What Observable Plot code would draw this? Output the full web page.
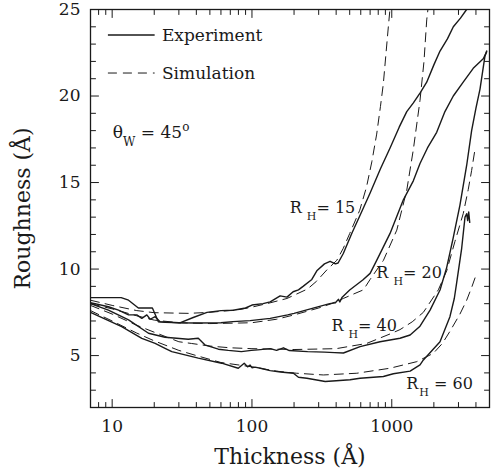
<!DOCTYPE html>
<html><head><meta charset="utf-8">
<script src="https://cdn.jsdelivr.net/npm/d3@7"></script>
<script src="https://cdn.jsdelivr.net/npm/@observablehq/plot@0.6"></script>
<style>body{margin:0;background:#fff}</style>
</head><body><div id="chart"></div>
<script>
// ---- data (thickness Å, roughness Å) ----
const rh15ExpX = [7, 11.6, 13.1, 15.4, 19.4, 21.4, 24, 30.8, 38, 47.7, 60, 73.5, 90, 100, 120, 135, 159, 178, 197, 215, 232, 268, 291, 330, 362, 395, 413, 450, 520, 600, 700, 830, 972, 1130, 1280, 1427, 1600, 1778, 2000, 2213, 2500, 2756, 3100, 3430];
const rh15ExpY = [8.35, 8.35, 8.2, 7.75, 7.75, 6.95, 6.92, 6.9, 7.2, 7.5, 7.6, 7.62, 7.75, 7.92, 8.0, 8.1, 8.45, 8.38, 8.69, 8.8, 9.0, 9.4, 9.9, 10.3, 10.45, 10.3, 10.35, 10.9, 12.1, 13.2, 14.4, 15.8, 17.0, 18.2, 19.1, 19.6, 20.2, 20.8, 21.8, 22.6, 23.3, 24.0, 24.5, 25.0];
const rh15SimX = [7, 10, 15, 20, 35, 50, 80, 100, 135, 178, 250, 290, 343, 404, 450, 500, 590, 660, 720, 780, 830, 870, 910, 945, 975];
const rh15SimY = [8.2, 7.9, 7.6, 7.48, 7.44, 7.5, 7.65, 7.8, 8.05, 8.3, 8.85, 9.3, 9.95, 10.5, 11.2, 12.05, 13.4, 14.75, 16.2, 17.8, 19.4, 20.7, 22.5, 24.0, 25.2];

const rh20ExpX = [7, 9.4, 11.1, 13.1, 15, 16.3, 17.7, 18.7, 20.3, 22, 30, 40, 60, 73, 97, 135, 180, 200, 270, 360, 395, 415, 425, 440, 500, 620, 700, 780, 972, 1210, 1426, 1592, 1800, 2095, 2400, 2754, 3243, 3825, 4510, 4770];
const rh20ExpY = [8.06, 7.82, 7.63, 7.35, 7.35, 7.15, 7.35, 7.1, 7.25, 6.96, 6.9, 6.88, 6.9, 6.96, 7.02, 7.15, 7.35, 7.44, 7.73, 8.0, 8.05, 8.25, 8.1, 8.35, 8.79, 9.37, 9.75, 10.5, 12.06, 14.0, 15.1, 16.1, 17.0, 17.9, 19.1, 20.0, 20.8, 21.6, 22.15, 22.55];
const rh20SimX = [7, 10, 15, 20, 30, 50, 80, 100, 150, 200, 300, 370, 450, 530, 627, 700, 871, 1086, 1280, 1426, 1592, 1700, 1778, 1825];
const rh20SimY = [8.0, 7.7, 7.3, 7.05, 6.9, 6.85, 6.88, 6.9, 7.1, 7.35, 7.75, 8.0, 8.3, 8.55, 8.8, 9.4, 10.5, 12.25, 14.56, 16.9, 19.75, 22.0, 24.4, 25.2];

const rh40ExpX = [7, 9.4, 13.1, 18.2, 23.9, 35, 41.3, 46, 57.5, 67.7, 84, 99, 110, 135, 150, 168, 185, 250, 330, 390, 451, 593, 824, 1145, 1353, 1592, 1879, 2213, 2472, 2750, 3073, 3434, 3725, 4000, 4276, 4638, 4773];
const rh40ExpY = [8.0, 7.63, 7.06, 6.29, 6.06, 5.94, 6.0, 5.62, 5.37, 5.3, 5.23, 5.3, 5.33, 5.4, 5.3, 5.45, 5.29, 5.23, 5.2, 5.17, 5.15, 5.52, 5.8, 6.0, 6.19, 6.7, 7.63, 8.79, 10.1, 11.8, 13.7, 16.0, 18.0, 19.3, 20.4, 22.3, 22.6];
const rh40SimX = [7, 10, 15, 20, 30, 37, 50, 70, 100, 200, 400, 660, 972, 1145, 1400, 1683, 2153, 2472, 2831, 3243, 3524, 3725, 3934];
const rh40SimY = [7.9, 7.4, 6.75, 6.35, 5.8, 5.7, 5.55, 5.45, 5.4, 5.35, 5.4, 5.7, 6.25, 6.5, 6.95, 7.5, 8.8, 9.9, 11.6, 13.2, 14.6, 15.7, 16.9];

const rh60ExpX = [7, 11.7, 16.3, 20.3, 23.9, 26.7, 41.3, 60.7, 79.8, 88, 93, 97, 100, 105, 115, 135, 160, 198, 215, 247, 334, 400, 503, 593, 871, 1026, 1353, 1592, 1683, 2213, 2606, 2800, 2911, 3162, 3340, 3434, 3490, 3550, 3610];
const rh60ExpY = [7.5, 6.67, 6.0, 5.71, 5.42, 5.23, 4.85, 4.56, 4.27, 4.56, 4.35, 4.45, 4.3, 4.33, 4.27, 4.13, 4.05, 3.98, 3.75, 3.69, 3.5, 3.55, 3.6, 3.69, 3.79, 3.95, 4.1, 4.46, 4.75, 5.8, 7.25, 8.3, 9.2, 11.2, 13.0, 13.2, 12.8, 13.3, 12.7];
const rh60SimX = [7, 10, 15, 20, 30, 40, 60, 100, 150, 209, 324, 562, 972, 1510, 1982, 2300, 2606, 3073, 3434, 3750, 4045];
const rh60SimY = [7.6, 7.0, 6.3, 5.85, 5.3, 5.0, 4.6, 4.35, 4.1, 3.98, 3.88, 3.98, 4.27, 4.65, 5.13, 5.7, 6.4, 7.4, 8.2, 9.0, 9.75];

// ticks
const xMajorTicks = [10, 100, 1000];
const xMinorTicks = [8, 9, 20, 30, 40, 50, 60, 70, 80, 90, 200, 300, 400, 500, 600, 700, 800, 900, 2000, 3000, 4000];
const yMajorTicks = [5, 10, 15, 20, 25];
const yMinorTicks = [3, 4, 6, 7, 8, 9, 11, 12, 13, 14, 16, 17, 18, 19, 21, 22, 23, 24];

// labels
const xTitle = "Thickness (Å)";
const yTitle = "Roughness (Å)";
const legendNames = ["Experiment", "Simulation"];
const rhValues = [15, 20, 40, 60];
const rhLabelX = [188, 782, 373, 1280];
const rhLabelY = [13.23, 9.48, 6.38, 3.02];
const angleText = {sym: "θ", sub: "W", val: " = 45", sup: "o", x: 10.2, y: 17.56};
const legendX = [9.4, 20.3, 22.9];
const legendY = [23.5, 21.3];

// build tables
function rows(xs, ys, key) { return xs.map((x, i) => ({x, y: ys[i], key})); }
const expData = [
  ...rows(rh15ExpX, rh15ExpY, "15"), ...rows(rh20ExpX, rh20ExpY, "20"),
  ...rows(rh40ExpX, rh40ExpY, "40"), ...rows(rh60ExpX, rh60ExpY, "60")];
const simData = [
  ...rows(rh15SimX, rh15SimY, "15"), ...rows(rh20SimX, rh20SimY, "20"),
  ...rows(rh40SimX, rh40SimY, "40"), ...rows(rh60SimX, rh60SimY, "60")];

const ink = "#1a1a1a";
const font = "DejaVu Serif";
const tickShape = {draw(context, l) { context.moveTo(0, 0); context.lineTo(0, -l); }};
function xTicks(values, len) {
  return [
    Plot.vector(values, {x: d => d, frameAnchor: "bottom", length: len, rotate: 0, anchor: "start", shape: tickShape, stroke: ink, strokeWidth: 1}),
    Plot.vector(values, {x: d => d, frameAnchor: "top", length: len, rotate: 180, anchor: "start", shape: tickShape, stroke: ink, strokeWidth: 1})
  ];
}
function yTicks(values, len) {
  return [
    Plot.vector(values, {y: d => d, frameAnchor: "left", length: len, rotate: 90, anchor: "start", shape: tickShape, stroke: ink, strokeWidth: 1}),
    Plot.vector(values, {y: d => d, frameAnchor: "right", length: len, rotate: -90, anchor: "start", shape: tickShape, stroke: ink, strokeWidth: 1})
  ];
}

const plot = Plot.plot({
  width: 497, height: 470,
  marginLeft: 90, marginRight: 8, marginTop: 9, marginBottom: 63,
  style: {fontFamily: font, fontSize: "17px", color: ink, background: "white"},
  x: {type: "log", domain: [7, 5000]},
  y: {domain: [2, 25]},
  marks: [
    Plot.line(simData, {x: "x", y: "y", z: "key", stroke: ink, strokeWidth: 1, strokeDasharray: "9,6", clip: true}),
    Plot.line(expData, {x: "x", y: "y", z: "key", stroke: ink, strokeWidth: 1.4, clip: true}),
    Plot.frame({stroke: ink, strokeWidth: 1.3}),
    ...xTicks(xMajorTicks, 8), ...xTicks(xMinorTicks, 5),
    ...yTicks(yMajorTicks, 8), ...yTicks(yMinorTicks, 5),
    Plot.axisX({anchor: "bottom", ticks: xMajorTicks, tickSize: 0, tickPadding: 12, tickFormat: d => String(d), label: null, fontSize: 17}),
    Plot.axisY({anchor: "left", ticks: yMajorTicks, tickSize: 0, tickPadding: 10, tickFormat: d => String(d), label: null, fontSize: 17}),
    Plot.text([xTitle], {frameAnchor: "bottom", dy: 56, textAnchor: "middle", fontSize: 22, fill: ink}),
    Plot.text([yTitle], {frameAnchor: "left", dx: -68, rotate: -90, textAnchor: "middle", fontSize: 22, fill: ink})
  ]
});

document.getElementById("chart").appendChild(plot);

// annotations positioned through the plot's scales
const sx = plot.scale("x"), sy = plot.scale("y");
const svg = d3.select(plot.tagName === "svg" ? plot : plot.querySelector("svg"));
const g = svg.append("g").attr("font-family", font).attr("fill", ink).attr("text-anchor", "start");

// legend
legendNames.forEach((name, i) => {
  const y = sy.apply(legendY[i]);
  g.append("line").attr("x1", sx.apply(legendX[0])).attr("x2", sx.apply(legendX[1]))
    .attr("y1", y).attr("y2", y).attr("stroke", ink).attr("stroke-width", i ? 1 : 1.4)
    .attr("stroke-dasharray", i ? "9,6" : null);
  g.append("text").attr("x", sx.apply(legendX[2])).attr("y", y + 6)
    .attr("font-size", 17).text(name);
});

// theta_W = 45°
{
  const t = g.append("text").attr("x", sx.apply(angleText.x)).attr("y", sy.apply(angleText.y)).attr("font-size", 17);
  t.append("tspan").text(angleText.sym);
  t.append("tspan").attr("dy", 8).attr("font-size", 12).text(angleText.sub);
  t.append("tspan").attr("dy", -8).text(angleText.val);
  t.append("tspan").attr("dy", -7).attr("font-size", 12).text(angleText.sup);
}

// R_H labels
rhValues.forEach((v, i) => {
  const t = g.append("text").attr("x", sx.apply(rhLabelX[i])).attr("y", sy.apply(rhLabelY[i])).attr("font-size", 16);
  t.append("tspan").text("R");
  t.append("tspan").attr("dx", i === 3 ? 1 : 5).attr("dy", 7).attr("font-size", 11).text("H");
  t.append("tspan").attr("dy", -7).text((i === 3 ? " = " : "= ") + v);
});
</script>
</body></html>
